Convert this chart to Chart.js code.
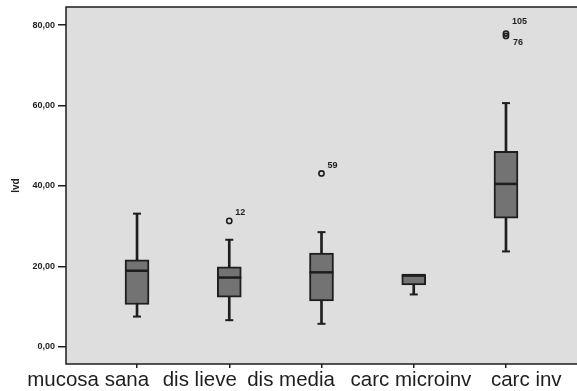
<!DOCTYPE html>
<html>
<head>
<meta charset="utf-8">
<script src="https://cdn.jsdelivr.net/npm/chart.js@4/dist/chart.umd.min.js"></script>
<style>
    body { margin: 0; background: #fff; }
    #wrap { width: 577px; height: 391px; position: relative; }
</style>
</head>
<body>
<div id="wrap"><canvas id="boxChart"></canvas></div>
<script>
// box plot values
const categories = ['mucosa sana', 'dis lieve', 'dis media', 'carc microinv', 'carc inv'];
const labelPos = [0.47, 1.68, 2.67, 3.97, 5.22];
const whiskerLow = [7.5, 6.6, 5.7, 13.0, 23.7];
const q1 = [10.5, 12.3, 11.4, 15.4, 32.0];
const median = [18.9, 17.2, 18.5, 17.8, 40.5];
const q3 = [21.6, 19.85, 23.3, 17.8, 48.6];
const whiskerHigh = [33.1, 26.6, 28.5, 17.8, 60.6];

const outlierCat = [2, 3, 5, 5];
const outlierVal = [31.3, 43.1, 77.9, 77.3];
const outlierLabel = ['12', '59', '105', '76'];

const yTicks = [0, 20, 40, 60, 80];

const FONT = "'Liberation Sans', Arial, sans-serif";
const INK = '#1e1e1e';

const idx = categories.map((c, i) => i + 1);

const whiskerData = idx.map((x, i) => ({ x, y: [whiskerLow[i], whiskerHigh[i]] }));
const boxData = idx.map((x, i) => ({ x, y: [q1[i], q3[i]] }));
const medianData = idx.map((x, i) => ({ x, y: median[i] }));
const capData = idx.flatMap((x, i) => [{ x, y: whiskerLow[i] }, { x, y: whiskerHigh[i] }]);
const outlierData = outlierCat.map((x, i) => ({ x, y: outlierVal[i] }));

const plotPlugin = {
    id: 'plotFrame',
    beforeDraw(chart) {
        const { ctx, chartArea: a } = chart;
        ctx.save();
        ctx.fillStyle = '#dedede';
        ctx.fillRect(a.left, a.top, a.right - a.left + 2, a.bottom - a.top);
        ctx.restore();
    },
    afterDatasetsDraw(chart) {
        const { ctx, chartArea: a, scales } = chart;
        ctx.save();
        ctx.strokeStyle = INK;
        ctx.lineWidth = 1.5;
        ctx.beginPath();
        ctx.moveTo(a.right + 2, a.top);
        ctx.lineTo(a.left, a.top);
        ctx.lineTo(a.left, a.bottom);
        ctx.lineTo(a.right + 2, a.bottom);
        ctx.stroke();

        // outlier case numbers
        const offsets = { '12': [6, -8], '59': [6, -8], '105': [6, -12], '76': [7, 7] };
        ctx.fillStyle = INK;
        ctx.font = 'bold 9px ' + FONT;
        ctx.textBaseline = 'middle';
        ctx.textAlign = 'left';
        outlierLabel.forEach((lab, i) => {
            const px = scales.x.getPixelForValue(outlierCat[i]);
            const py = scales.y.getPixelForValue(outlierVal[i]);
            const off = offsets[lab] || [6, -8];
            ctx.fillText(lab, px + off[0], py + off[1]);
        });

        // category labels under the axis
        ctx.font = '20.5px ' + FONT;
        ctx.textAlign = 'center';
        ctx.textBaseline = 'alphabetic';
        categories.forEach((c, i) => {
            ctx.fillText(c, scales.x.getPixelForValue(labelPos[i]), 386);
        });
        ctx.restore();
    }
};

new Chart(document.getElementById('boxChart'), {
    type: 'bar',
    data: {
        datasets: [
            {
                type: 'bar', data: whiskerData, grouped: false, order: 4,
                barThickness: 2, backgroundColor: INK, borderWidth: 0
            },
            {
                type: 'bar', data: boxData, grouped: false, order: 3,
                barThickness: 24, backgroundColor: '#737373', borderColor: INK,
                borderWidth: 2, borderSkipped: false
            },
            {
                type: 'scatter', data: medianData, order: 2,
                pointStyle: 'line', radius: 12, hoverRadius: 12, borderColor: INK, borderWidth: 2.5
            },
            {
                type: 'scatter', data: capData, order: 2,
                pointStyle: 'line', radius: 4, hoverRadius: 4, borderColor: INK, borderWidth: 2
            },
            {
                type: 'scatter', data: outlierData, order: 1,
                pointStyle: 'circle', radius: 2.6, hoverRadius: 2.6,
                backgroundColor: 'rgba(0,0,0,0)', borderColor: INK, borderWidth: 1.6
            }
        ]
    },
    options: {
        responsive: true,
        maintainAspectRatio: false,
        animation: false,
        events: [],
        layout: { autoPadding: false, padding: { top: 7, right: 0, left: 0, bottom: 0 } },
        plugins: { legend: { display: false }, tooltip: { enabled: false } },
        scales: {
            x: {
                type: 'linear',
                min: 0.23,
                max: 5.77,
                offset: false,
                afterBuildTicks: s => { s.ticks = idx.map(v => ({ value: v })); },
                afterFit: s => { s.height = 27; s.paddingLeft = 0; s.paddingRight = 0; },
                ticks: { display: false },
                grid: { offset: false, drawOnChartArea: false, drawTicks: true, tickLength: 4, lineWidth: 1.5, color: INK },
                border: { display: false }
            },
            y: {
                min: -4.3,
                max: 84.5,
                afterBuildTicks: s => { s.ticks = yTicks.map(v => ({ value: v })); },
                afterFit: s => { s.width = 66; s.paddingTop = 0; s.paddingBottom = 0; },
                ticks: {
                    padding: 3,
                    color: INK,
                    font: { family: FONT, size: 9, weight: 'bold' },
                    callback: v => v.toFixed(2).replace('.', ',')
                },
                grid: { drawOnChartArea: false, drawTicks: true, tickLength: 8, lineWidth: 1.5, color: INK },
                border: { display: false },
                title: {
                    display: true,
                    text: 'lvd',
                    color: INK,
                    padding: { top: 10, bottom: 0 },
                    font: { family: FONT, size: 10, weight: 'bold' }
                }
            }
        }
    },
    plugins: [plotPlugin]
});
</script>
</body>
</html>
